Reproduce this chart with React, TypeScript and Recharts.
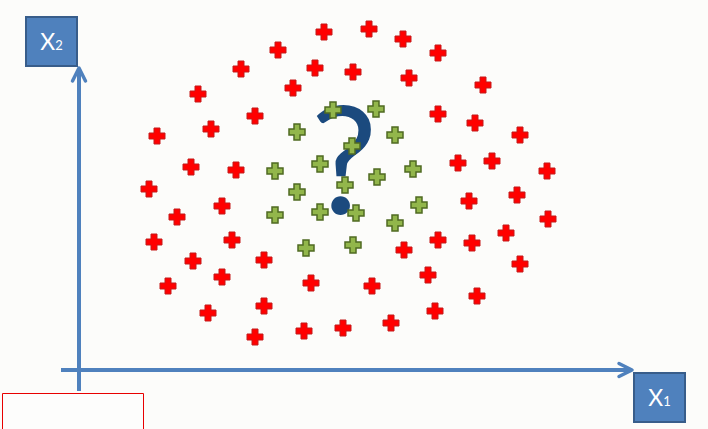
import React from 'react';
import { ScatterChart, Scatter, XAxis, YAxis, ReferenceLine, ReferenceArea } from 'recharts';

// Values are in feature units, origin at the axes crossing
const outerClass: [number, number][] = [
  [245, 338], [290, 341], [324, 331], [359, 317], [199, 320], [162, 301], [236, 302], [274, 298],
  [330, 292], [404, 285], [119, 276], [214, 282], [176, 254], [359, 256], [132, 241], [78, 234],
  [396, 247], [441, 235], [112, 203], [157, 200], [379, 207], [413, 209], [468, 199], [70, 181],
  [143, 164], [98, 153], [390, 169], [438, 175], [469, 151], [75, 128], [153, 130], [427, 137],
  [359, 130], [393, 127], [325, 120], [114, 109], [185, 110], [441, 106], [143, 93], [349, 95],
  [89, 84], [232, 87], [293, 84], [398, 74], [129, 57], [185, 64], [356, 59], [225, 39],
  [264, 42], [312, 47], [176, 33],
];

const innerClass: [number, number][] = [
  [218, 238], [254, 260], [297, 261], [316, 235], [273, 224], [196, 199], [241, 206], [334, 201],
  [298, 193], [266, 185], [218, 178], [196, 155], [241, 158], [277, 157], [340, 165], [316, 147],
  [227, 122], [274, 125],
];

const queryPoint: [number, number][] = [[264, 164]];

const X_DOMAIN: [number, number] = [-79, 629];
const Y_DOMAIN: [number, number] = [-59, 370];

const AXIS_BLUE = '#4f81bd';

const toRows = (pts: [number, number][]) => pts.map(([x, y]) => ({ x, y }));

const plusPath = (cx: number, cy: number, h = 8, t = 3) =>
  `M${cx - t},${cy - h}L${cx + t},${cy - h}L${cx + t},${cy - t}L${cx + h},${cy - t}L${cx + h},${cy + t}` +
  `L${cx + t},${cy + t}L${cx + t},${cy + h}L${cx - t},${cy + h}L${cx - t},${cy + t}L${cx - h},${cy + t}` +
  `L${cx - h},${cy - t}L${cx - t},${cy - t}Z`;

const RedPlus = (props: any) => (
  <path d={plusPath(props.cx, props.cy)} fill="#ff0000" stroke="#c41a1a" strokeWidth={1} />
);

const GreenPlus = (props: any) => (
  <path d={plusPath(props.cx, props.cy)} fill="#92b64b" stroke="#4f6a22" strokeWidth={1.5} />
);

// the unknown sample, drawn as a big question mark
const QuestionMark = (props: any) => (
  <text
    x={props.cx + 1}
    y={props.cy + 8}
    textAnchor="middle"
    fill="#1b4a7e"
    style={{ fontFamily: 'Lato, "Open Sans", sans-serif', fontSize: 149 }}
  >
    ?
  </text>
);

const BoxLabel = ({ viewBox, main, sub }: any) => {
  if (!viewBox) return null;
  const cx = viewBox.x + viewBox.width / 2;
  const cy = viewBox.y + viewBox.height / 2;
  return (
    <text x={cx} y={cy + 8} textAnchor="middle" fill="#ffffff" style={{ fontFamily: 'Lato, "Open Sans", sans-serif' }}>
      <tspan fontSize={23}>{main}</tspan>
      <tspan fontSize={13}>{sub}</tspan>
    </text>
  );
};

export default function App() {
  return (
    <div style={{ position: 'fixed', left: 0, top: 0, width: 708, height: 429, background: '#fcfcfa' }}>
      <ScatterChart width={708} height={429} margin={{ top: 0, right: 0, bottom: 0, left: 0 }}>
        <defs>
          <marker
            id="axisArrow"
            markerUnits="userSpaceOnUse"
            markerWidth={20}
            markerHeight={20}
            viewBox="0 0 20 20"
            refX={16}
            refY={10}
            orient="auto"
          >
            <path d="M3,3.5L16,10L3,16.5" fill="none" stroke={AXIS_BLUE} strokeWidth={3.5} strokeLinecap="round" strokeLinejoin="round" />
          </marker>
        </defs>
        <XAxis type="number" dataKey="x" domain={X_DOMAIN} allowDataOverflow hide />
        <YAxis type="number" dataKey="y" domain={Y_DOMAIN} allowDataOverflow hide />

        <ReferenceLine
          segment={[{ x: 0, y: -21 }, { x: 0, y: 302 }]}
          stroke={AXIS_BLUE}
          strokeWidth={4}
          markerEnd="url(#axisArrow)"
          ifOverflow="visible"
        />
        <ReferenceLine
          segment={[{ x: -18, y: 0 }, { x: 553, y: 0 }]}
          stroke={AXIS_BLUE}
          strokeWidth={4}
          markerEnd="url(#axisArrow)"
          ifOverflow="visible"
        />

        <ReferenceArea
          x1={-53}
          x2={-2}
          y1={304}
          y2={353}
          fill={AXIS_BLUE}
          fillOpacity={1}
          stroke="#385d8a"
          strokeWidth={2}
          ifOverflow="visible"
          label={<BoxLabel main="X" sub="2" />}
        />
        <ReferenceArea
          x1={555}
          x2={606}
          y1={-52}
          y2={-3}
          fill={AXIS_BLUE}
          fillOpacity={1}
          stroke="#385d8a"
          strokeWidth={2}
          ifOverflow="visible"
          label={<BoxLabel main="X" sub="1" />}
        />
        <ReferenceArea
          x1={-76.5}
          x2={64.5}
          y1={-23.5}
          y2={-80}
          fill="#fdfdfc"
          fillOpacity={1}
          stroke="#e80000"
          strokeWidth={1}
          ifOverflow="visible"
        />

        <Scatter data={toRows(queryPoint)} shape={QuestionMark} isAnimationActive={false} />
        <Scatter data={toRows(innerClass)} shape={GreenPlus} isAnimationActive={false} />
        <Scatter data={toRows(outerClass)} shape={RedPlus} isAnimationActive={false} />
      </ScatterChart>
    </div>
  );
}
